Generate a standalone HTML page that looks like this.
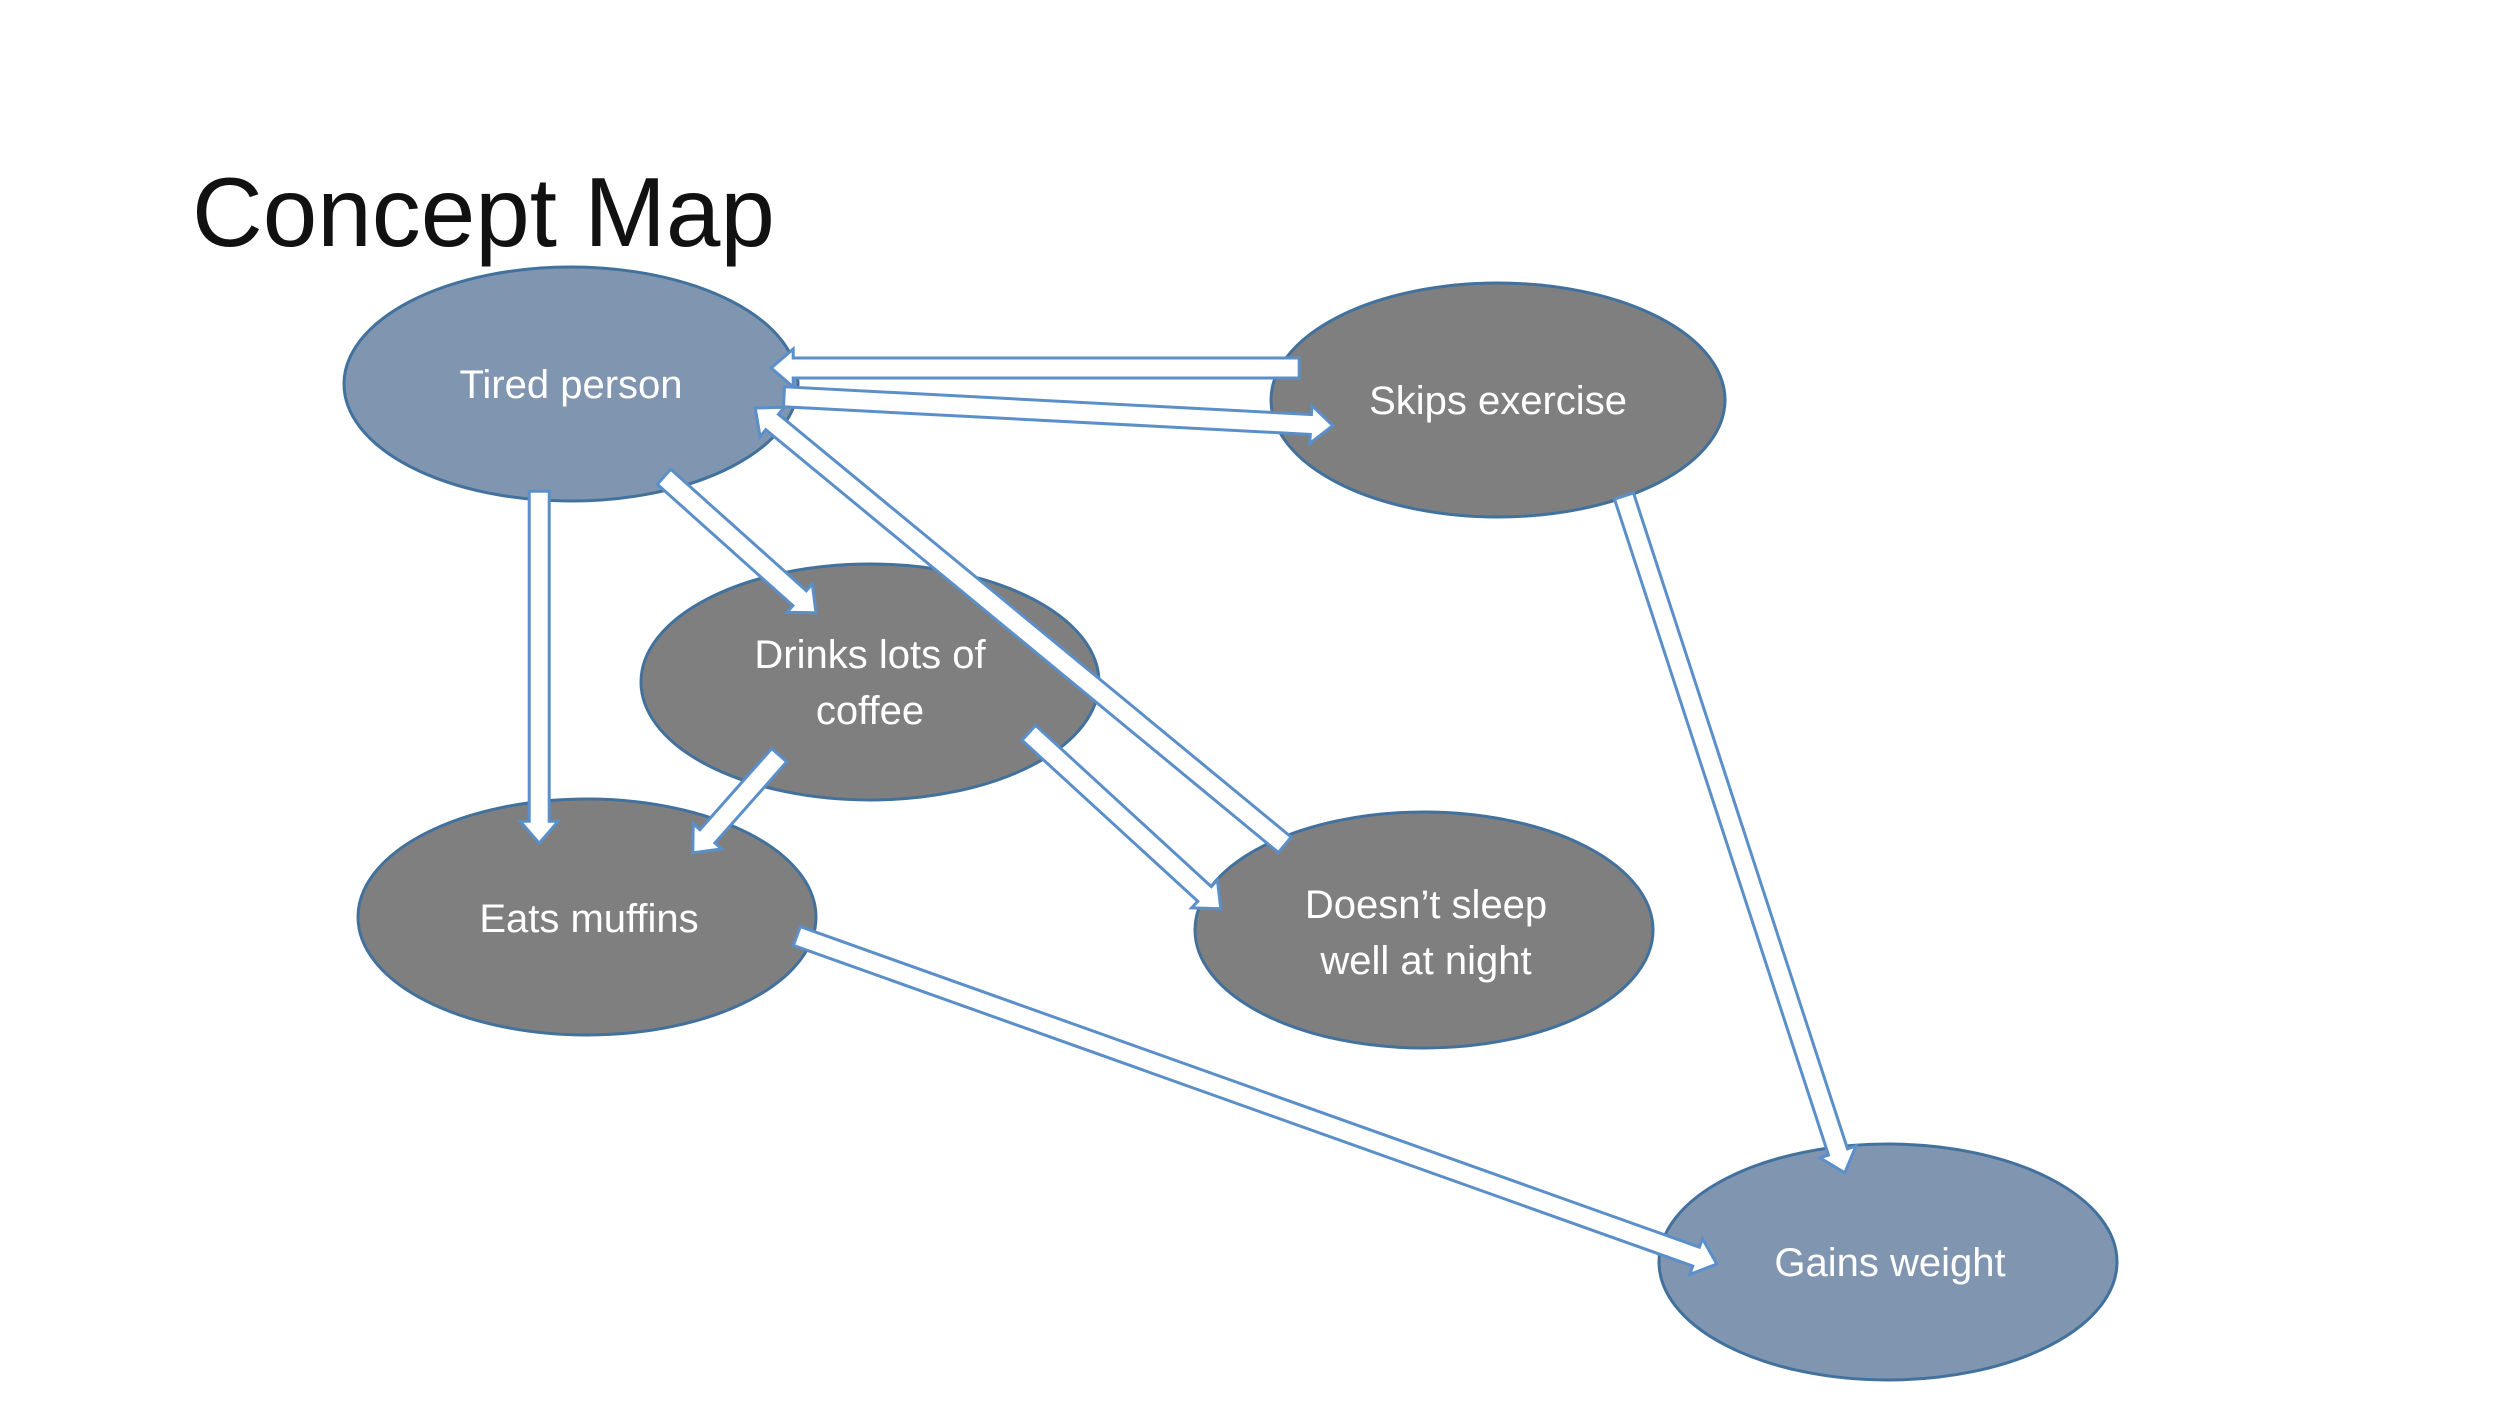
<!DOCTYPE html>
<html><head><meta charset="utf-8"><style>
html,body{margin:0;padding:0;background:#fff;}
svg{display:block}
</style></head><body>
<svg id="s" width="2500" height="1406" viewBox="0 0 2500 1406" xmlns="http://www.w3.org/2000/svg">
<rect width="2500" height="1406" fill="#fff"/>
<text x="192" y="246" font-family="Liberation Sans, sans-serif" font-size="98" fill="#111">Concept Map</text>
<g stroke="#41719c" stroke-width="3">
<ellipse cx="571" cy="384" rx="227" ry="117" fill="#8096b0"/>
<ellipse cx="1498" cy="400" rx="227" ry="117" fill="#7f7f7f"/>
<ellipse cx="870" cy="682" rx="229" ry="118" fill="#7f7f7f"/>
<ellipse cx="587" cy="917" rx="229" ry="118" fill="#7f7f7f"/>
<ellipse cx="1424" cy="930" rx="229" ry="118" fill="#7f7f7f"/>
<ellipse cx="1888" cy="1262" rx="229" ry="118" fill="#8096b0"/>
</g>
<g font-family="Liberation Sans, sans-serif" font-size="40" fill="#fff" text-anchor="middle">
<text x="571" y="398">Tired person</text>
<text x="1498" y="414">Skips exercise</text>
<text x="870" y="668">Drinks lots of</text>
<text x="870" y="724">coffee</text>
<text x="589" y="932">Eats muffins</text>
<text x="1426" y="918">Doesn’t sleep</text>
<text x="1426" y="974">well at night</text>
<text x="1890" y="1276">Gains weight</text>
</g>
<g id="arrows" fill="#fff" stroke="#5b8fc9" stroke-width="3" stroke-linejoin="miter"></g>
<script>
(function(){
var s=1.6;
var A=[[812,230,482,230],[490,248,833,266],[337,307,337,527],[415,298,510,383],[803,528,472,255],[487,472,433,533],[643,458,763,568],[1015,310,1153,733],[498,585,1073,790]];
var g=document.getElementById('arrows');
var w=10,hw=19,hl=22;
A.forEach(function(a){
var x1=a[0]*s,y1=a[1]*s,x2=a[2]*s,y2=a[3]*s;
var dx=x2-x1,dy=y2-y1,L=Math.sqrt(dx*dx+dy*dy);var ux=dx/L,uy=dy/L,nx=-uy,ny=ux;
var bx=x2-ux*hl,by=y2-uy*hl;
var p=[[x1+nx*w,y1+ny*w],[bx+nx*w,by+ny*w],[bx+nx*hw,by+ny*hw],[x2,y2],[bx-nx*hw,by-ny*hw],[bx-nx*w,by-ny*w],[x1-nx*w,y1-ny*w]];
var e=document.createElementNS('http://www.w3.org/2000/svg','polygon');
e.setAttribute('points',p.map(function(q){return q[0].toFixed(1)+','+q[1].toFixed(1)}).join(' '));
g.appendChild(e);
});
})();
</script>
</svg>
</body></html>
